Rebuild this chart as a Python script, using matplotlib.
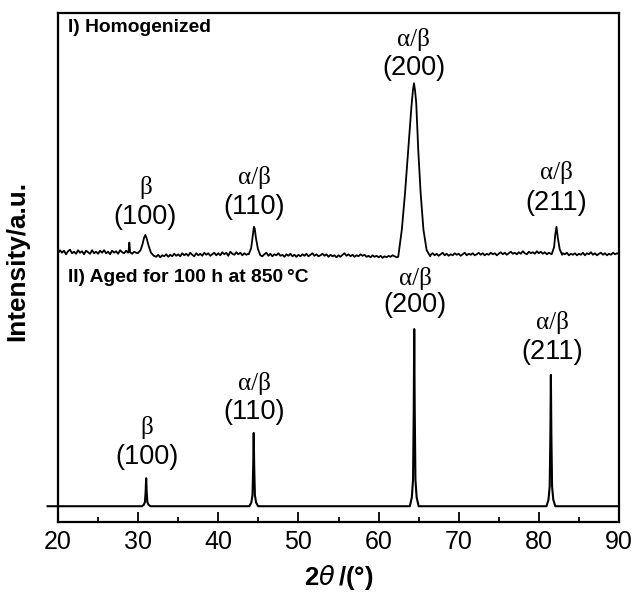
import numpy as np
import matplotlib
matplotlib.use("Agg")
import matplotlib.pyplot as plt
from matplotlib.ticker import MultipleLocator

# ---------------- data ----------------
# Curve I (homogenized): background points every 0.25 deg (noisy baseline)
bg_x_I = [20 + 0.25 * i for i in range(281)]
bg_y_I = [
    52.8, 53.4, 52.9, 53.3, 52.6, 53.2, 53.5, 52.8, 53.1, 52.7, 53.4, 52.9, 53.2, 52.6, 53.3, 53.0, 52.7, 53.4, 52.8, 53.1,  # 20-25
    52.7, 53.3, 52.9, 53.4, 52.8, 53.1, 52.6, 53.3, 52.9, 53.2, 52.7, 53.4, 53.0, 52.8, 53.3, 52.9, 53.2, 52.7, 53.1, 52.9,  # 25-30
    52.6, 52.9, 52.4, 52.7, 52.3, 52.0, 52.4, 51.9, 52.3, 52.1, 52.5, 52.0, 52.4, 52.2, 52.6, 52.1, 52.5, 52.2, 52.7, 52.3,  # 30-35
    52.6, 52.2, 52.8, 52.4, 52.7, 52.3, 52.9, 52.5, 52.2, 52.8, 52.4, 52.7, 52.3, 52.9, 52.5, 52.8, 52.3, 52.6, 52.9, 52.4,  # 35-40
    52.8, 52.4, 53.0, 52.6, 52.9, 52.3, 53.1, 52.7, 52.5, 53.0, 52.6, 52.9, 52.4, 52.8, 52.5, 52.7, 52.3, 52.6, 52.2, 52.5,  # 40-45
    52.3, 52.7, 52.2, 52.6, 52.9, 52.3, 52.7, 52.2, 52.6, 52.4, 52.8, 52.3, 52.5, 52.1, 52.6, 52.3, 52.7, 52.2, 52.5, 52.1,  # 45-50
    52.5, 52.2, 52.6, 52.3, 52.7, 52.2, 52.5, 52.8, 52.3, 52.6, 52.2, 52.4, 52.7, 52.3, 52.6, 52.1, 52.5, 52.2, 52.4, 52.0,  # 50-55
    52.4, 52.1, 52.5, 52.8, 52.3, 52.6, 52.2, 52.5, 52.1, 52.4, 52.2, 52.6, 52.3, 52.5, 52.1, 52.3, 52.0, 52.4, 52.1, 52.3,  # 55-60
    52.0, 52.3, 51.9, 52.2, 52.0, 52.3, 52.1, 52.4, 52.2, 52.0, 52.3, 52.1, 52.4, 52.2, 52.3, 52.1, 52.4, 52.2, 52.3, 52.1,  # 60-65
    52.4, 52.2, 52.5, 52.3, 52.6, 52.2, 52.5, 52.8, 52.4, 52.7, 52.3, 52.6, 52.9, 52.4, 52.7, 52.3, 52.6, 52.4, 52.8, 52.5,  # 65-70
    52.7, 52.3, 52.6, 52.9, 52.4, 52.7, 52.5, 52.8, 52.4, 52.6, 52.9, 52.5, 52.8, 52.4, 52.7, 52.5, 52.9, 52.6, 52.8, 52.4,  # 70-75
    52.7, 53.0, 52.6, 52.9, 52.5, 52.8, 53.1, 52.7, 52.9, 52.6, 53.0, 52.7, 53.2, 52.8, 52.6, 53.1, 52.8, 53.0, 52.7, 53.2,  # 75-80
    52.8, 53.1, 52.7, 53.0, 52.6, 52.9, 52.7, 53.1, 52.8, 52.6, 52.9, 52.5, 52.8, 52.6, 52.9, 52.4, 52.7, 52.5, 52.8, 52.4,  # 80-85
    52.7, 52.5, 52.9, 52.4, 52.8, 52.6, 53.0, 52.5, 52.8, 52.4, 52.7, 52.9, 52.5, 52.8, 52.4, 52.7, 52.5, 52.9, 52.6, 52.8,  # 85-90
    52.6,
]

# Curve I peak profiles (2theta, intensity)
pk_I_100 = ([29.95, 30.3, 30.55, 30.75, 30.9, 31.05, 31.3, 31.6, 31.95],
            [52.8, 53.4, 54.6, 55.9, 56.4, 55.8, 54.3, 52.9, 52.3])
pk_I_spike = ([28.8, 28.9, 29.0], [53.0, 54.9, 53.0])
pk_I_110 = ([43.8, 44.1, 44.3, 44.45, 44.55, 44.7, 44.95, 45.25],
            [52.6, 53.8, 56.2, 58.0, 57.6, 55.8, 53.6, 52.4])
pk_I_200 = ([62.45, 62.9, 63.3, 63.7, 64.1, 64.3, 64.42, 64.55, 64.7, 64.95, 65.25, 65.6, 66.0, 66.45],
            [52.1, 57.4, 64.6, 73.1, 81.6, 85.0, 86.2, 84.8, 82.3, 73.1, 64.6, 57.4, 53.4, 52.2])
pk_I_211 = ([81.6, 81.9, 82.05, 82.2, 82.35, 82.6, 82.9],
            [52.6, 54.0, 56.5, 58.0, 56.0, 53.6, 52.5])
peaks_I = [pk_I_spike, pk_I_100, pk_I_110, pk_I_200, pk_I_211]

# Curve II (aged 100 h at 850 C): flat baseline with sharp peaks
base_II = 3.1
base_x_II = [18.7, 90.0]
pk_II_pos = [31.0, 44.42, 64.45, 81.5]
pk_II_height = [8.6, 17.5, 37.9, 28.9]
pk_II_shape_dx = [-0.55, -0.3, -0.15, -0.06, 0.0, 0.06, 0.15, 0.3, 0.55]
pk_II_shape_frac = [0.0, 0.05, 0.15, 0.55, 1.0, 0.55, 0.15, 0.05, 0.0]

# Labels
labels_I = [("\u03b2", "(100)"), ("\u03b1/\u03b2", "(110)"), ("\u03b1/\u03b2", "(200)"), ("\u03b1/\u03b2", "(211)")]
labels_II = [("\u03b2", "(100)"), ("\u03b1/\u03b2", "(110)"), ("\u03b1/\u03b2", "(200)"), ("\u03b1/\u03b2", "(211)")]
title_I = "I) Homogenized"
title_II = "II) Aged for 100 h at 850\u2009\u00b0C"
x_ticks = [20, 30, 40, 50, 60, 70, 80, 90]

# ---------------- build curves ----------------
def merge(bg_x, bg_y, peaks):
    xs, ys = [], []
    for x, y in zip(bg_x, bg_y):
        if any(p[0][0] <= x <= p[0][-1] for p in peaks):
            continue
        xs.append(x); ys.append(y)
    for p in peaks:
        xs.extend(p[0]); ys.extend(p[1])
    order = np.argsort(xs)
    return np.array(xs)[order], np.array(ys)[order]

xI, yI = merge(bg_x_I, bg_y_I, peaks_I)

xs2 = list(base_x_II)
ys2 = [base_II, base_II]
for c, h in zip(pk_II_pos, pk_II_height):
    for dx, f in zip(pk_II_shape_dx, pk_II_shape_frac):
        xs2.append(c + dx)
        ys2.append(base_II + f * (h - base_II))
o = np.argsort(xs2)
xII = np.array(xs2)[o]
yII = np.array(ys2)[o]

# ---------------- plot ----------------
plt.rcParams['font.family'] = ['Liberation Sans', 'DejaVu Sans']
fig = plt.figure(figsize=(6.33, 5.94), dpi=100)
ax = fig.add_axes([58/633, 1 - 522/594, 561/633, 509/594])

ax.plot(xI, yI, color='black', lw=1.3)
ax.plot(xII, yII, color='black', lw=1.5, clip_on=False)

ax.set_xlim(20, 90)
ax.set_ylim(0, 100)
ax.set_xticks(x_ticks)
ax.xaxis.set_minor_locator(MultipleLocator(5))
ax.tick_params(axis='x', which='major', direction='in', length=7.5, width=1.3,
               labelsize=18, pad=6)
ax.tick_params(axis='x', which='minor', direction='in', length=3.8, width=1.3)
ax.set_yticks([])
for s in ax.spines.values():
    s.set_linewidth(1.6)

ax.set_xlabel(r"2$\mathit{\theta}\,$/(°)", fontsize=18.5, fontweight='bold', labelpad=6)
fig.text(17/633, 1 - 261/594, "Intensity/a.u.", rotation=90, fontsize=18.8,
         fontweight='bold', ha='center', va='center')

greek = dict(family=['Liberation Serif', 'DejaVu Serif'], fontsize=18, ha='center', va='center')
paren = dict(fontsize=19.5, ha='center', va='center')

pos_I = [(30.9, 65.8, 59.9), (44.5, 67.6, 61.9), (64.4, 94.7, 89.2), (82.15, 68.6, 62.7)]
pos_II = [(31.1, 18.5, 12.8), (44.5, 27.3, 21.6), (64.6, 47.9, 42.6), (81.7, 39.1, 33.4)]
for (g, p), (x, yg, yp) in zip(labels_I, pos_I):
    ax.text(x, yg, g, **greek)
    ax.text(x, yp, p, **paren)
for (g, p), (x, yg, yp) in zip(labels_II, pos_II):
    ax.text(x, yg, g, **greek)
    ax.text(x, yp, p, **paren)

ax.text(21.25, 97.1, title_I, fontsize=13.9, fontweight='bold', ha='left', va='center')
ax.text(21.25, 48.1, title_II, fontsize=13.9, fontweight='bold', ha='left', va='center')

fig.savefig("out.png", dpi=100)
